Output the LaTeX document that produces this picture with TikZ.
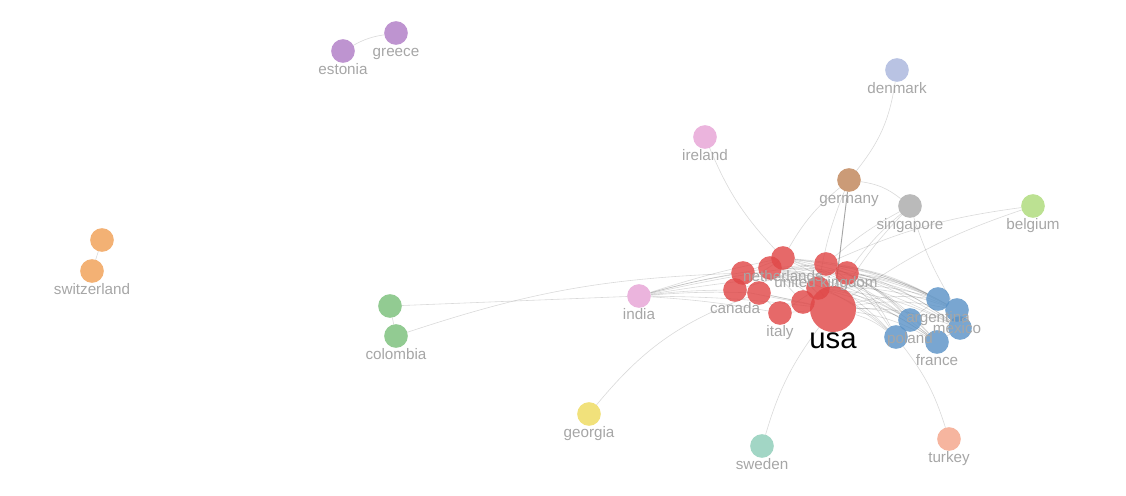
\documentclass[tikz,border=0pt]{standalone}
\usepackage{fontspec}
\setmainfont{Liberation Sans}
\usepackage{xcolor}
\usetikzlibrary{positioning,backgrounds}
\definecolor{NetRed}{HTML}{E04848}
\definecolor{NetBlue}{HTML}{5B93C7}
\definecolor{NetPurple}{HTML}{B07CC6}
\definecolor{NetOrange}{HTML}{F0A055}
\definecolor{NetGreen}{HTML}{7ABF7A}
\definecolor{NetPink}{HTML}{E6A3D6}
\definecolor{NetYellow}{HTML}{EEDB5E}
\definecolor{NetTeal}{HTML}{8ECDB8}
\definecolor{NetSalmon}{HTML}{F4A58A}
\definecolor{NetLavender}{HTML}{A9B6DD}
\definecolor{NetBrown}{HTML}{C08559}
\definecolor{NetGray}{HTML}{ABABAB}
\definecolor{NetLime}{HTML}{ADDB7A}
\definecolor{NetLabel}{HTML}{A6A6A6}

\begin{document}
\begin{tikzpicture}[
  x=0.03cm, y=-0.03cm,
  every node/.style={font=\fontsize{13}{15}\selectfont},
  country/.style={circle, fill=#1, fill opacity=0.82, minimum size=0.71cm, inner sep=0pt, outer sep=0pt},
  clabel/.style={text=NetLabel, inner sep=0pt, outer sep=0pt, text height=9pt, text depth=2.5pt},
  tie/.style={draw=black, draw opacity=0.15, line width=0.5pt}
]
\useasboundingbox (0,0) rectangle (1126,495);

% red cluster
\node[country=NetRed, minimum size=1.38cm] (usa) at (833,309) {};
\node[country=NetRed] (uk) at (826,264) {};
\node[country=NetRed] (nl) at (783,258) {};
\node[country=NetRed] (canada) at (735,290) {};
\node[country=NetRed] (italy) at (780,313) {};
\node[country=NetRed] (r1) at (770,268) {};
\node[country=NetRed] (r2) at (743,273) {};
\node[country=NetRed] (r3) at (847,273) {};
\node[country=NetRed] (r4) at (759,293) {};
\node[country=NetRed] (r5) at (803,302) {};
\node[country=NetRed] (r6) at (818,288) {};

% blue cluster
\node[country=NetBlue] (argentina) at (938,299) {};
\node[country=NetBlue] (mexico) at (957,310) {};
\node[country=NetBlue] (poland) at (910,320) {};
\node[country=NetBlue] (france) at (937,342) {};
\node[country=NetBlue] (b1) at (960,328) {};
\node[country=NetBlue] (b2) at (896,337) {};

% the rest
\node[country=NetPurple] (greece) at (396,33) {};
\node[country=NetPurple] (estonia) at (343,51) {};
\node[country=NetOrange] (sw1) at (102,240) {};
\node[country=NetOrange] (switzerland) at (92,271) {};
\node[country=NetGreen] (col1) at (390,306) {};
\node[country=NetGreen] (colombia) at (396,336) {};
\node[country=NetPink] (india) at (639,296) {};
\node[country=NetYellow] (georgia) at (589,414) {};
\node[country=NetTeal] (sweden) at (762,446) {};
\node[country=NetSalmon] (turkey) at (949,439) {};
\node[country=NetPink] (ireland) at (705,137) {};
\node[country=NetLavender] (denmark) at (897,70) {};
\node[country=NetBrown] (germany) at (849,180) {};
\node[country=NetGray] (singapore) at (910,206) {};
\node[country=NetLime] (belgium) at (1033,206) {};

% labels
\node[clabel, below=0.02cm of greece] (greece-l) {greece};
\node[clabel, below=0.02cm of estonia] (estonia-l) {estonia};
\node[clabel, below=0.02cm of switzerland] (switzerland-l) {switzerland};
\node[clabel, below=0.02cm of colombia] (colombia-l) {colombia};
\node[clabel, below=0.02cm of india] (india-l) {india};
\node[clabel, below=0.02cm of georgia] (georgia-l) {georgia};
\node[clabel, below=0.02cm of sweden] (sweden-l) {sweden};
\node[clabel, below=0.02cm of turkey] (turkey-l) {turkey};
\node[clabel, below=0.02cm of ireland] (ireland-l) {ireland};
\node[clabel, below=0.02cm of denmark] (denmark-l) {denmark};
\node[clabel, below=0.02cm of germany] (germany-l) {germany};
\node[clabel, below=0.02cm of singapore] (singapore-l) {singapore};
\node[clabel, below=0.02cm of belgium] (belgium-l) {belgium};
\node[clabel, below=0.02cm of nl] (nl-l) {netherlands};
\node[clabel, below=0.02cm of uk] (uk-l) {united kingdom};
\node[clabel, below=0.02cm of canada] (canada-l) {canada};
\node[clabel, below=0.02cm of italy] (italy-l) {italy};
\node[clabel, below=0.02cm of argentina] (argentina-l) {argentina};
\node[clabel, below=0.02cm of mexico] (mexico-l) {mexico};
\node[clabel, below=0.02cm of poland] (poland-l) {poland};
\node[clabel, below=0.02cm of france] (france-l) {france};
\node[clabel, text=black, font=\fontsize{25}{28}\selectfont, text height=13pt, below=0.05cm of usa] (usa-l) {usa};

\begin{pgfonlayer}{background}
% inside the red cluster
\foreach \a/\b in {usa/uk, usa/nl, usa/canada, usa/italy, usa/r1, usa/r3, usa/r4, usa/r6, uk/nl, uk/r1, uk/r3, uk/r6,
  nl/r1, nl/r2, nl/canada, canada/r4, r4/italy, r5/usa, r5/r1, r5/r4, r6/r1, r2/r6, italy/r6, canada/uk}
  \draw[tie] (\a) -- (\b);
% red to blue
\foreach \a in {usa, uk, r3, r6, r1, nl}
  \foreach \b in {argentina, mexico, poland, france, b1, b2}
    \draw[tie] (\a) to[bend left=10] (\b);
\foreach \a/\b in {argentina/mexico, poland/b2, poland/france, france/b1, argentina/poland}
  \draw[tie] (\a) -- (\b);
% india and the west
\foreach \b in {canada, r2, nl, r1, uk, usa, r4, italy, r3}
  \draw[tie] (india) to[bend left=3] (\b);
\draw[tie] (col1) -- (india);
\draw[tie] (col1) -- (colombia);
\draw[tie] (colombia) to[bend left=8] (r2);
\draw[tie] (georgia) to[bend left=15] (r4);
\draw[tie] (ireland) to[bend right=10] (nl);
% north
\draw[tie] (denmark) to[bend left=15] (germany);
\draw[tie, draw opacity=0.35, line width=0.8pt] (germany) -- (usa);
\draw[tie] (germany) to[bend left=15] (singapore);
\draw[tie] (germany) to[bend right=10] (nl);
\draw[tie] (germany) to[bend right=6] (r6);
\foreach \b in {uk, usa, r3, mexico}
  \draw[tie] (singapore) to[bend right=6] (\b);
\draw[tie] (belgium) to[bend right=8] (usa);
\draw[tie] (belgium) to[bend right=8] (uk);
% south
\draw[tie] (sweden) to[bend left=10] (usa);
\draw[tie] (turkey) to[bend right=10] (b2);
% small pairs
\draw[tie] (estonia) to[bend left=10] (greece);
\draw[tie] (sw1) -- (switzerland);
\end{pgfonlayer}
\end{tikzpicture}
\end{document}
